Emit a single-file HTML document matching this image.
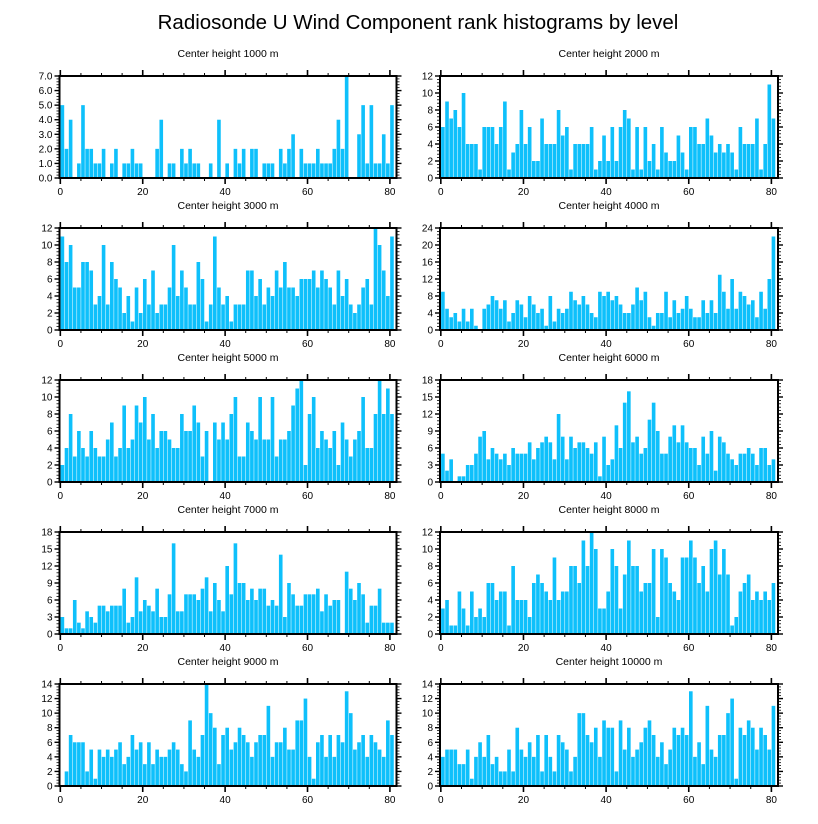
<!DOCTYPE html>
<html><head><meta charset="utf-8"><style>
html,body{margin:0;padding:0;background:#fff;}
svg{display:block;font-family:"Liberation Sans",Arial,sans-serif;}
</style></head><body>
<svg id="chart" width="818" height="824" viewBox="0 0 818 824" xmlns="http://www.w3.org/2000/svg">
<text x="418" y="29" text-anchor="middle" font-size="20.5" fill="#000">Radiosonde U Wind Component rank histograms by level</text>
</svg>
<script>
const panelTitles = ["Center height 1000 m","Center height 2000 m","Center height 3000 m","Center height 4000 m","Center height 5000 m","Center height 6000 m","Center height 7000 m","Center height 8000 m","Center height 9000 m","Center height 10000 m"];
const yMax = [7,12,12,24,12,18,18,12,14,14];
const yStep = [1,2,2,4,2,3,3,2,2,2];
const yDecimals = [1,0,0,0,0,0,0,0,0,0];
const xTicks = [0,20,40,60,80];
const h1000 = [5,2,4,0,1,5,2,2,1,1,2,0,1,2,0,1,1,2,1,1,0,0,0,2,4,0,1,1,0,2,1,2,1,1,0,0,1,0,4,0,1,0,2,1,2,0,2,2,0,1,1,1,0,2,1,2,3,0,2,1,1,1,2,1,1,1,2,4,2,7,0,0,3,5,1,5,1,1,3,1,5];
const h2000 = [6,9,7,8,6,10,4,4,4,1,6,6,6,4,6,9,1,3,4,8,4,6,2,2,7,4,4,4,8,5,6,1,4,4,4,4,6,1,2,5,2,6,2,6,8,7,1,6,1,6,2,4,1,6,3,2,2,5,3,1,6,6,4,4,7,5,3,4,3,4,3,1,6,4,4,4,7,1,4,11,7];
const h3000 = [11,8,10,5,5,8,8,7,3,4,10,3,8,6,5,2,4,1,5,2,6,3,7,2,3,3,5,10,4,7,5,3,3,8,6,1,3,11,5,3,4,1,3,3,3,7,7,4,6,3,5,4,7,5,8,5,5,4,6,6,6,7,5,7,6,5,3,7,4,6,3,2,3,5,6,3,12,10,7,4,11];
const h4000 = [9,5,3,4,2,5,2,5,1,0,5,6,8,7,5,7,2,4,7,6,3,8,6,4,5,1,8,2,5,4,5,9,7,6,8,6,4,3,9,8,9,7,8,6,4,4,6,10,7,9,3,1,4,4,9,3,7,4,5,8,5,3,3,7,4,7,4,13,9,5,12,5,9,8,6,7,3,9,5,12,22];
const h5000 = [2,4,8,3,6,4,3,6,4,3,3,5,7,3,4,9,4,5,9,7,10,5,8,4,6,6,5,4,4,8,6,6,9,7,3,6,0,7,5,7,5,8,10,3,3,7,6,5,10,5,5,10,3,5,5,6,9,11,12,2,8,10,4,6,5,4,6,2,7,5,3,5,6,10,4,4,8,12,8,11,8];
const h6000 = [5,2,4,0,1,1,3,3,5,8,9,4,6,5,4,5,3,6,5,5,5,7,4,6,7,8,7,4,12,8,4,8,6,7,7,6,5,7,1,8,3,4,10,6,14,16,7,8,5,6,11,14,9,5,5,8,10,7,10,7,6,6,3,8,5,9,2,8,7,5,4,3,5,5,6,5,3,6,6,3,4];
const h7000 = [3,1,1,6,2,1,4,3,2,5,5,4,5,5,5,8,2,3,10,4,6,5,4,8,3,3,7,16,4,4,7,7,7,6,8,10,4,9,6,4,12,7,16,9,9,6,8,6,8,8,5,6,5,14,3,9,7,5,5,7,7,7,8,4,7,5,6,6,0,11,8,6,9,7,2,5,5,8,2,2,2];
const h8000 = [3,4,1,1,5,3,1,5,2,3,2,6,6,4,5,5,1,8,4,4,4,2,6,7,6,5,4,9,4,5,5,8,8,6,11,8,12,10,3,3,5,10,8,3,7,11,8,8,5,6,6,10,2,10,9,6,5,4,9,9,11,9,6,8,5,10,11,7,10,7,1,2,5,6,7,4,5,4,5,4,6];
const h9000 = [0,2,7,6,6,6,2,5,1,5,4,5,4,5,6,3,4,7,5,6,3,6,3,5,4,4,5,6,5,3,2,9,5,4,7,14,10,8,3,7,8,5,6,8,7,6,4,6,7,7,11,4,6,6,8,5,5,9,9,12,4,1,6,7,4,7,4,7,6,13,10,5,6,7,4,7,6,5,4,9,7];
const h10000 = [4,5,5,5,3,3,5,1,4,6,4,7,3,4,2,2,5,2,8,5,4,6,4,7,2,7,4,2,7,6,5,2,4,10,10,7,6,8,4,9,8,8,2,9,5,8,4,5,6,8,9,7,4,6,3,5,8,7,8,7,13,4,6,3,11,5,4,7,7,10,12,1,8,7,9,8,5,8,7,5,11];
const series = [h1000,h2000,h3000,h4000,h5000,h6000,h7000,h8000,h9000,h10000];

const NS = "http://www.w3.org/2000/svg";
const svg = document.getElementById("chart");
function mk(tag, attrs, parent){ const e=document.createElementNS(NS,tag); for(const k in attrs) e.setAttribute(k,attrs[k]); parent.appendChild(e); return e; }

const XMIN=-0.2, XMAX=81.6;
for(let p=0;p<10;p++){
  const col=p%2, row=Math.floor(p/2);
  const L = col===0?59.5:440, R = col===0?396.5:778;
  const T = 76 + row*152, B = T+102;
  const xs = v => L + (v-XMIN)/(XMAX-XMIN)*(R-L);
  const ys = v => B - v/yMax[p]*(B-T);
  const g = mk("g",{},svg);
  
  
  const t = mk("text",{x:(L+R)/2,y:T-19,"text-anchor":"middle","font-size":"10.5",fill:"#000"},g);
  t.textContent = panelTitles[p];
  
  
  const data = series[p];
  for(let i=0;i<data.length;i++){
    if(data[i]<=0) continue;
    const x0=xs(i), x1=xs(i+1);
    const r = mk("rect",{x:x0+0.25,y:ys(data[i]),width:Math.max(0.5,x1-x0-0.5),height:B-ys(data[i]),fill:"#0ec0fb"},g);
    
    
  }
  // frame
  const f = mk("rect",{x:L,y:T,width:R-L,height:B-T,fill:"none",stroke:"#000","stroke-width":"2"},g);
  
  
  // x ticks (major & minor) on bottom and top, outward
  for(let v=0; v<=80; v+=5){
    const major = v%20===0;
    const len = major?6:3;
    const x=xs(v);
    mk("line",{x1:x,y1:B,x2:x,y2:B+len,stroke:"#000","stroke-width":major?1.6:1},g);
    mk("line",{x1:x,y1:T,x2:x,y2:T-len,stroke:"#000","stroke-width":major?1.6:1},g);
  }
  for(const v of xTicks){
    const tl = mk("text",{x:xs(v),y:B+17,"text-anchor":"middle","font-size":"10",fill:"#000"},g);
    tl.textContent = v;
    
    
  }
  // y ticks
  const minorN = 5;
  for(let k=0;k<=Math.round(yMax[p]/yStep[p])*minorN;k++){
    const v = k*yStep[p]/minorN;
    const major = k%minorN===0;
    const len = major?5:3;
    const y=ys(v);
    mk("line",{x1:L,y1:y,x2:L-len,y2:y,stroke:"#000","stroke-width":major?1.4:0.8},g);
    mk("line",{x1:R,y1:y,x2:R+len,y2:y,stroke:"#000","stroke-width":major?1.4:0.8},g);
    if(major){
      const yl = mk("text",{x:L-7,y:y+3.5,"text-anchor":"end","font-size":"10",fill:"#000"},g);
      yl.textContent = v.toFixed(yDecimals[p]);
      
      
    }
  }
}
</script>
</body></html>
